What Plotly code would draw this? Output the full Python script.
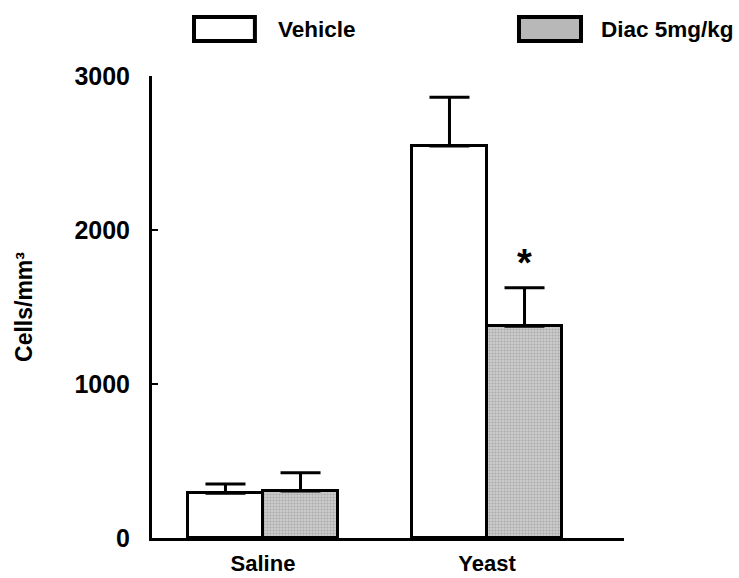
import plotly.graph_objects as go

# Group labels and measured means / SEM (cells per mm^3)
categories = ["Saline", "Yeast"]
vehicle_mean = [290, 2545]
vehicle_sem = [60, 317]
diac_mean = [305, 1375]
diac_sem = [118, 250]
y_ticks = [0, 1000, 2000, 3000]
series_names = ["Vehicle", "Diac 5mg/kg"]
significance = ["", "*"]

FONT = "Arial, Liberation Sans, sans-serif"
BAR_W = 0.335
GRAY_PATTERN = dict(shape=".", size=3, solidity=0.5, fgcolor="#8e8e8e", bgcolor="#d2d2d2")

fig = go.Figure()

fig.add_trace(go.Bar(
    x=categories, y=vehicle_mean, name=series_names[0],
    width=BAR_W, offset=-BAR_W,
    marker=dict(color="white", line=dict(color="black", width=3)),
    error_y=dict(type="data", array=vehicle_sem, arrayminus=[0, 0], symmetric=False,
                 color="black", thickness=3, width=20),
    showlegend=False,
))
fig.add_trace(go.Bar(
    x=categories, y=diac_mean, name=series_names[1],
    width=BAR_W, offset=0,
    marker=dict(color="#b8b8b8", pattern=GRAY_PATTERN, line=dict(color="black", width=3)),
    error_y=dict(type="data", array=diac_sem, arrayminus=[0, 0], symmetric=False,
                 color="black", thickness=3, width=20),
    showlegend=False,
))

# Significance marks above the treated bars
for i, mark in enumerate(significance):
    if mark:
        fig.add_annotation(
            x=i + BAR_W / 2, y=diac_mean[i] + diac_sem[i], text=mark,
            showarrow=False, yanchor="bottom", yshift=2,
            font=dict(family=FONT, size=38, color="black", weight="bold"),
        )

# Legend drawn as outlined boxes with labels above the plot
legend_items = [
    (0.089, 0.218, 0.2627, "white", None),
    (0.7775, 0.9089, 0.947, "#b8b8b8", GRAY_PATTERN),
]
for (x0, x1, xt, fill, pat), name in zip(legend_items, series_names):
    fig.add_shape(type="rect", xref="paper", yref="paper",
                  x0=x0, x1=x1, y0=1.0758, y1=1.1277,
                  line=dict(color="black", width=4), fillcolor=fill, layer="above")
    fig.add_annotation(xref="paper", yref="paper", x=xt, y=1.1017, text=name,
                       showarrow=False, xanchor="left", yanchor="middle",
                       font=dict(family=FONT, size=22.5, color="black", weight="bold"))

fig.update_layout(
    width=739, height=578,
    margin=dict(l=152, r=115, t=76, b=40),
    plot_bgcolor="white", paper_bgcolor="white",
    barmode="overlay", bargap=0,
    font=dict(family=FONT, color="black"),
    xaxis=dict(
        range=[-0.4955, 1.6116], showline=True, linecolor="black", linewidth=3,
        ticks="", showgrid=False, zeroline=False, automargin=False,
        tickfont=dict(family=FONT, size=22, weight="bold"),
        ticklabelstandoff=4,
    ),
    yaxis=dict(
        range=[0, 3000], tickvals=y_ticks, showline=True, linecolor="black", linewidth=3,
        ticks="inside", ticklen=6, tickwidth=2, tickcolor="black",
        showgrid=False, zeroline=False, automargin=False,
        tickfont=dict(family=FONT, size=25, weight="bold"),
        ticklabelstandoff=14,
        title=dict(text="Cells/mm³", font=dict(family=FONT, size=23, weight="bold"), standoff=36),
    ),
)

fig.write_html("out.html")
